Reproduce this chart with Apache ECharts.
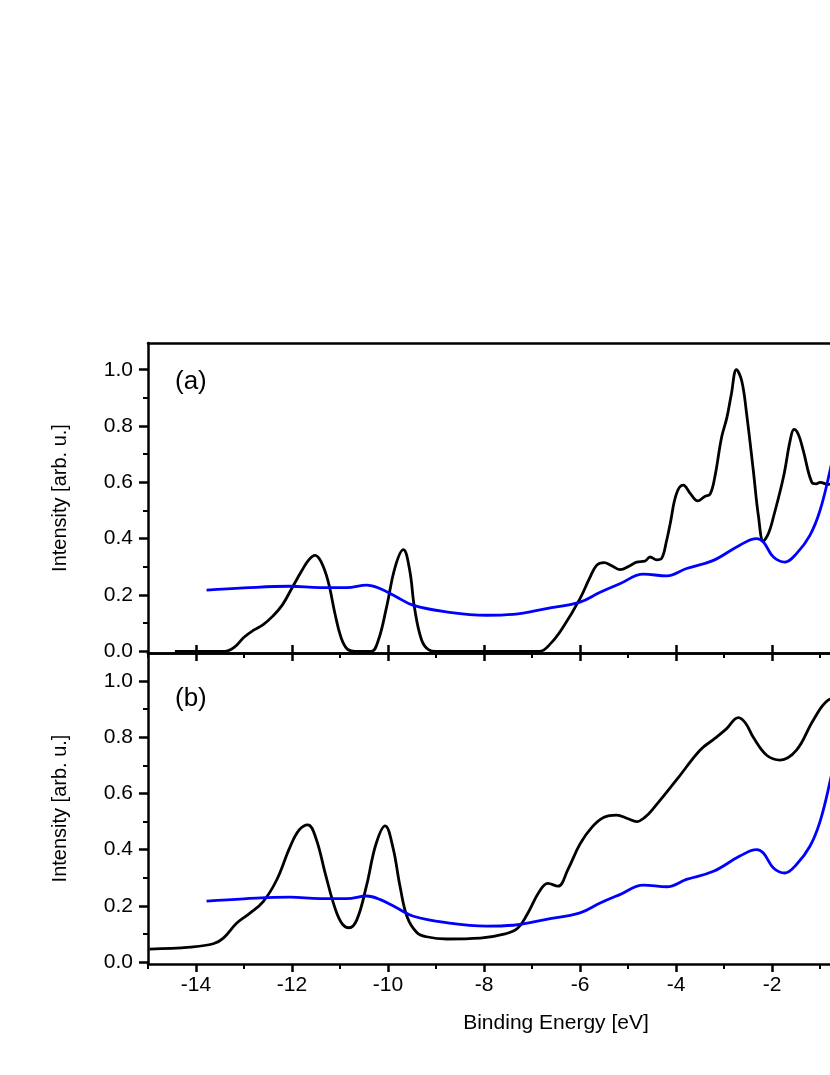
<!DOCTYPE html>
<html>
<head>
<meta charset="utf-8">
<script src="https://cdn.jsdelivr.net/npm/echarts@6/dist/echarts.min.js"></script>
<style>
html,body{margin:0;padding:0;background:#fff;}
#chart{width:830px;height:1075px;}
</style>
</head>
<body>
<div id="chart"></div>
<script>
// ---- data (binding energy [eV], intensity [arb. u.]) ----
const panelLabels = ['(a)', '(b)'];
const xMajorTicks = [-14, -12, -10, -8, -6, -4, -2, 0, 2];
const xMinorTicks = [-15, -13, -11, -9, -7, -5, -3, -1, 1];
const yMajorTicks = [0, 0.2, 0.4, 0.6, 0.8, 1.0];
const yMinorTicks = [0.1, 0.3, 0.5, 0.7, 0.9];

const blackA = [
  [-14.44,0],[-13.4,0],[-13.2,0.015],[-13.0,0.05],[-12.8,0.075],[-12.6,0.095],[-12.4,0.125],
  [-12.2,0.165],[-12.0,0.225],[-11.8,0.285],[-11.65,0.325],[-11.52,0.341],[-11.4,0.32],
  [-11.25,0.25],[-11.1,0.13],[-10.98,0.05],[-10.85,0.008],[-10.7,0],[-10.35,0],[-10.2,0.04],
  [-10.03,0.157],[-9.85,0.30],[-9.68,0.361],[-9.55,0.29],[-9.45,0.157],[-9.3,0.04],
  [-9.15,0.005],[-9.0,0],[-6.85,0],[-6.6,0.03],[-6.35,0.086],[-6.0,0.187],[-5.8,0.26],
  [-5.65,0.306],[-5.5,0.315],[-5.35,0.305],[-5.17,0.29],[-4.95,0.305],[-4.82,0.317],
  [-4.65,0.32],[-4.54,0.335],[-4.4,0.325],[-4.3,0.33],[-4.2,0.39],[-4.12,0.454],[-3.99,0.56],
  [-3.85,0.59],[-3.7,0.56],[-3.55,0.534],[-3.4,0.55],[-3.29,0.558],[-3.19,0.62],[-3.05,0.76],
  [-2.94,0.83],[-2.85,0.91],[-2.74,1.0],[-2.63,0.96],[-2.53,0.845],[-2.39,0.643],[-2.28,0.477],
  [-2.18,0.392],[-2.07,0.42],[-1.97,0.477],[-1.76,0.62],[-1.62,0.75],[-1.54,0.788],[-1.45,0.77],
  [-1.35,0.714],[-1.17,0.60],[-1.08,0.595],[-1.0,0.60],[-0.83,0.593],[-0.7,0.6]
];

const blackB = [
  [-14.97,0.046],[-14.125,0.053],[-13.64,0.065],[-13.43,0.085],[-13.15,0.139],[-12.875,0.174],
  [-12.6,0.215],[-12.32,0.292],[-12.04,0.41],[-11.85,0.47],[-11.67,0.488],[-11.5,0.44],
  [-11.3,0.31],[-11.1,0.19],[-10.95,0.135],[-10.81,0.122],[-10.65,0.15],[-10.45,0.27],
  [-10.25,0.42],[-10.06,0.485],[-9.9,0.41],[-9.75,0.27],[-9.6,0.16],[-9.4,0.105],[-9.2,0.09],
  [-8.77,0.082],[-8.08,0.085],[-7.56,0.1],[-7.3,0.12],[-7.1,0.17],[-6.85,0.25],[-6.67,0.28],
  [-6.46,0.27],[-6.25,0.33],[-6.0,0.42],[-5.75,0.48],[-5.5,0.515],[-5.24,0.523],
  [-5.0,0.51],[-4.82,0.50],[-4.65,0.515],[-4.47,0.547],[-3.99,0.648],[-3.5,0.754],[-3.19,0.796],
  [-2.95,0.83],[-2.70,0.87],[-2.55,0.85],[-2.39,0.80],[-2.11,0.736],[-1.83,0.719],[-1.49,0.754],
  [-1.14,0.861],[-0.83,0.932],[-0.6,0.94]
];

const blueRef = [
  [-13.78,0.217],[-13.0,0.225],[-12.04,0.231],[-11.42,0.226],[-10.86,0.226],[-10.44,0.235],
  [-10.17,0.223],[-9.82,0.193],[-9.47,0.163],[-8.78,0.14],[-7.95,0.128],[-7.39,0.131],
  [-6.7,0.152],[-6.0,0.175],[-5.58,0.21],[-5.17,0.24],[-4.68,0.274],[-4.19,0.268],[-3.78,0.294],
  [-3.22,0.323],[-2.67,0.377],[-2.32,0.40],[-2.18,0.388],[-1.97,0.335],[-1.73,0.317],
  [-1.49,0.347],[-1.21,0.412],[-1.0,0.50],[-0.79,0.643],[-0.6,0.8]
];

// ---- chart ----
const FONT = 'Liberation Sans, Arial, sans-serif';
const LW = 2.5;
const SW = 2.8;
const chart = echarts.init(document.getElementById('chart'));

const X_MIN = -15, X_MAX = 2;
const grids = [
  {left: 148, top: 343, width: 816, height: 310, containLabel: false, outerBoundsMode: 'none'},
  {left: 148, top: 653, width: 816, height: 311, containLabel: false, outerBoundsMode: 'none'}
];
const yRanges = [[-0.006, 1.095], [-0.007, 1.1]];

function xAxisDef(grid, pos, opts) {
  return Object.assign({
    type: 'value', gridIndex: grid, position: pos, min: X_MIN, max: X_MAX,
    axisLine: {show: false, onZero: false, lineStyle: {color: '#000', width: LW}},
    axisTick: {show: false},
    axisLabel: {show: false},
    splitLine: {show: false}
  }, opts);
}
function yAxisDef(grid, opts) {
  return Object.assign({
    type: 'value', gridIndex: grid, position: 'left',
    min: yRanges[grid][0], max: yRanges[grid][1],
    axisLine: {show: false, onZero: false, lineStyle: {color: '#000', width: LW}},
    axisTick: {show: false},
    axisLabel: {show: false},
    splitLine: {show: false}
  }, opts);
}
const majorTickX = (len) => ({show: true, length: len, customValues: xMajorTicks, lineStyle: {color: '#000', width: LW}});
const minorTickX = (len) => ({show: true, length: len, customValues: xMinorTicks, lineStyle: {color: '#000', width: 2}});

const xAxes = [
  // grid 0
  xAxisDef(0, 'bottom', {axisLine: {show: true, onZero: false, lineStyle: {color: '#000', width: LW}}, axisTick: majorTickX(8)}),
  xAxisDef(0, 'bottom', {axisTick: minorTickX(5)}),
  xAxisDef(0, 'top', {axisLine: {show: true, onZero: false, lineStyle: {color: '#000', width: LW}}}),
  // grid 1
  xAxisDef(1, 'bottom', {
    axisLine: {show: true, onZero: false, lineStyle: {color: '#000', width: LW}},
    axisTick: majorTickX(8),
    axisLabel: {show: true, customValues: xMajorTicks, color: '#000', fontFamily: FONT, fontSize: 21, margin: 11,
      formatter: v => String(v)},
    name: 'Binding Energy [eV]', nameLocation: 'middle', nameGap: 49,
    nameTextStyle: {color: '#000', fontFamily: FONT, fontSize: 21}
  }),
  xAxisDef(1, 'bottom', {axisTick: minorTickX(5)}),
  xAxisDef(1, 'top', {axisLine: {show: true, onZero: false, lineStyle: {color: '#000', width: LW}}, axisTick: majorTickX(8)})
];

const yAxes = [];
[0, 1].forEach(g => {
  yAxes.push(yAxisDef(g, {
    axisLine: {show: true, onZero: false, lineStyle: {color: '#000', width: LW}},
    axisTick: {show: true, length: 9, customValues: yMajorTicks, lineStyle: {color: '#000', width: LW}},
    axisLabel: {show: true, customValues: yMajorTicks, color: '#000', fontFamily: FONT, fontSize: 21, margin: 15,
      formatter: v => v.toFixed(1)},
    name: 'Intensity [arb. u.]', nameLocation: 'middle', nameGap: 78,
    nameTextStyle: {color: '#000', fontFamily: FONT, fontSize: 20}
  }));
  yAxes.push(yAxisDef(g, {
    axisTick: {show: true, length: 5, customValues: yMinorTicks, lineStyle: {color: '#000', width: 2}}
  }));
});

function lineSeries(data, xi, yi, color) {
  return {
    type: 'line', data: data, xAxisIndex: xi, yAxisIndex: yi,
    showSymbol: false, symbol: 'none', smooth: 0.4,
    lineStyle: {color: color, width: SW}, itemStyle: {color: color},
    silent: true, animation: false, clip: true
  };
}

chart.setOption({
  backgroundColor: '#fff',
  animation: false,
  grid: grids,
  xAxis: xAxes,
  yAxis: yAxes,
  graphic: [
    {type: 'text', left: 175, top: 369, style: {text: panelLabels[0], font: '26px ' + FONT, fill: '#000'}},
    {type: 'text', left: 175, top: 686, style: {text: panelLabels[1], font: '26px ' + FONT, fill: '#000'}}
  ],
  series: [
    lineSeries(blackA, 0, 0, '#000000'),
    lineSeries(blueRef, 0, 0, '#0000ff'),
    lineSeries(blackB, 3, 2, '#000000'),
    lineSeries(blueRef, 3, 2, '#0000ff')
  ]
});
</script>
</body>
</html>
